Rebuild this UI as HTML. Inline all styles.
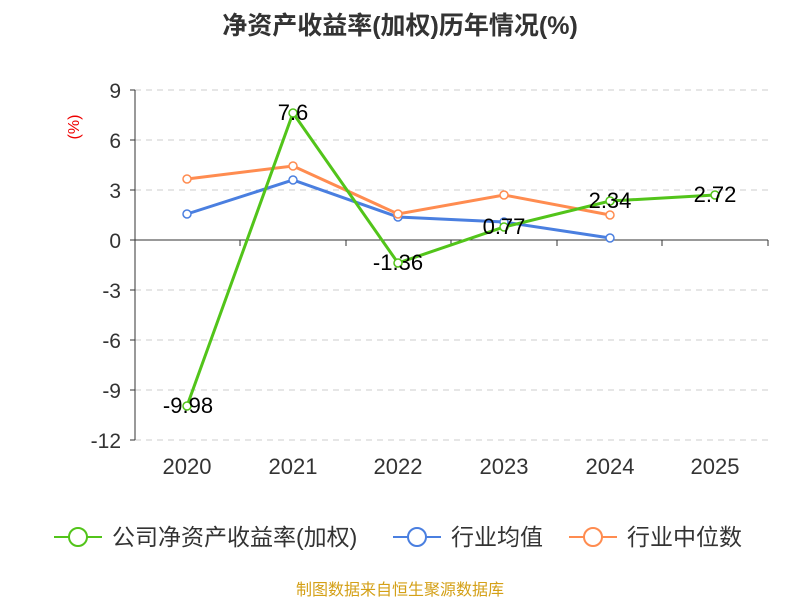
<!DOCTYPE html>
<html><head><meta charset="utf-8"><style>body{margin:0;background:#fff}svg{display:block}</style></head><body>
<svg width="800" height="600" xmlns="http://www.w3.org/2000/svg" font-family="Liberation Sans, Noto Sans CJK SC, sans-serif">
<text x="400" y="34" text-anchor="middle" font-size="25" font-weight="bold" fill="#333">净资产收益率(加权)历年情况(%)</text>
<text x="79" y="127" text-anchor="middle" font-size="16" fill="#e00" transform="rotate(-90 79 127)">(%)</text>
<g stroke="#ccc" stroke-dasharray="6,5" stroke-width="1">
<line x1="135" x2="768" y1="90" y2="90"/><line x1="135" x2="768" y1="140" y2="140"/><line x1="135" x2="768" y1="190" y2="190"/>
<line x1="135" x2="768" y1="290" y2="290"/><line x1="135" x2="768" y1="340" y2="340"/><line x1="135" x2="768" y1="390" y2="390"/><line x1="135" x2="768" y1="440" y2="440"/>
</g>
<line x1="135" x2="135" y1="90" y2="440" stroke="#333"/>
<line x1="135" x2="768" y1="240" y2="240" stroke="#333"/>
<g stroke="#333"><line x1="130" x2="135" y1="90" y2="90"/><line x1="130" x2="135" y1="140" y2="140"/><line x1="130" x2="135" y1="190" y2="190"/><line x1="130" x2="135" y1="240" y2="240"/><line x1="130" x2="135" y1="290" y2="290"/><line x1="130" x2="135" y1="340" y2="340"/><line x1="130" x2="135" y1="390" y2="390"/><line x1="130" x2="135" y1="440" y2="440"/>
<line x1="240" x2="240" y1="240" y2="246"/><line x1="346" x2="346" y1="240" y2="246"/><line x1="451" x2="451" y1="240" y2="246"/><line x1="557" x2="557" y1="240" y2="246"/><line x1="662" x2="662" y1="240" y2="246"/><line x1="768" x2="768" y1="240" y2="246"/></g>
<g font-size="21" fill="#333" text-anchor="end">
<text x="121" y="98">9</text><text x="121" y="148">6</text><text x="121" y="198">3</text><text x="121" y="248">0</text><text x="121" y="298">-3</text><text x="121" y="348">-6</text><text x="121" y="398">-9</text><text x="121" y="448">-12</text></g>
<g font-size="22" fill="#333" text-anchor="middle">
<text x="187" y="474">2020</text><text x="293" y="474">2021</text><text x="398" y="474">2022</text><text x="504" y="474">2023</text><text x="610" y="474">2024</text><text x="715" y="474">2025</text></g>
<g fill="none" stroke-width="3">
<polyline stroke="#4a7fe0" points="187,214 293,180 398,217 504,222 610,238"/>
<polyline stroke="#ff8c50" points="187,179 293,166 398,214 504,195 610,215"/>
<polyline stroke="#52c41a" points="187,406 293,113 398,263 504,227 610,201 715,195"/>
</g>
<g fill="#fff" stroke-width="1.5">
<g stroke="#4a7fe0"><circle cx="187" cy="214" r="4"/><circle cx="293" cy="180" r="4"/><circle cx="398" cy="217" r="4"/><circle cx="504" cy="222" r="4"/><circle cx="610" cy="238" r="4"/></g>
<g stroke="#ff8c50"><circle cx="187" cy="179" r="4"/><circle cx="293" cy="166" r="4"/><circle cx="398" cy="214" r="4"/><circle cx="504" cy="195" r="4"/><circle cx="610" cy="215" r="4"/></g>
<g stroke="#52c41a"><circle cx="187" cy="406" r="4"/><circle cx="293" cy="113" r="4"/><circle cx="398" cy="263" r="4"/><circle cx="504" cy="227" r="4"/><circle cx="610" cy="201" r="4"/><circle cx="715" cy="195" r="4"/></g>
</g>
<g font-size="22" fill="#000" text-anchor="middle">
<text x="188" y="413">-9.98</text><text x="293" y="120">7.6</text><text x="398" y="270">-1.36</text><text x="504" y="234">0.77</text><text x="610" y="208">2.34</text><text x="715" y="202">2.72</text></g>
<g font-size="23" fill="#333">
<line x1="54" x2="102" y1="537" y2="537" stroke="#52c41a" stroke-width="2"/><circle cx="78" cy="537" r="9" fill="#fff" stroke="#52c41a" stroke-width="2"/>
<text x="112" y="545">公司净资产收益率(加权)</text>
<line x1="393" x2="441" y1="537" y2="537" stroke="#4a7fe0" stroke-width="2"/><circle cx="417" cy="537" r="9" fill="#fff" stroke="#4a7fe0" stroke-width="2"/>
<text x="451" y="545">行业均值</text>
<line x1="569" x2="617" y1="537" y2="537" stroke="#ff8c50" stroke-width="2"/><circle cx="593" cy="537" r="9" fill="#fff" stroke="#ff8c50" stroke-width="2"/>
<text x="627" y="545">行业中位数</text></g>
<text x="400" y="595" text-anchor="middle" font-size="16" fill="#d4a017">制图数据来自恒生聚源数据库</text>
</svg>
</body></html>
